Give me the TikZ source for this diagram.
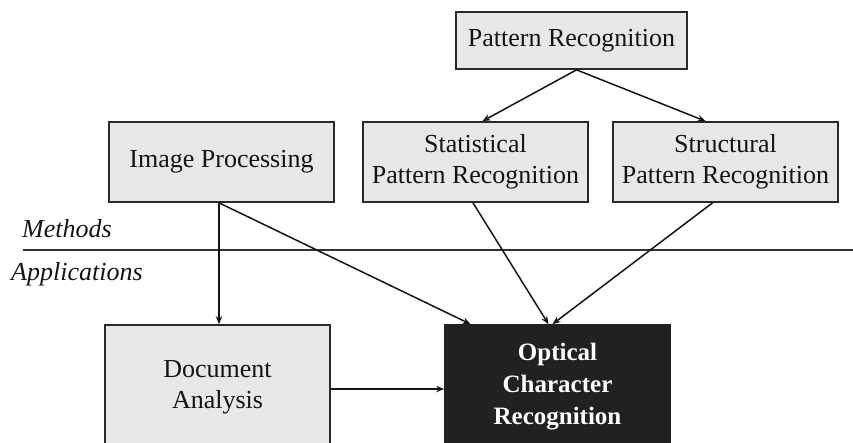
\documentclass[tikz,border=0pt]{standalone}
\usepackage{fontspec}
\setmainfont{Liberation Serif}
\usetikzlibrary{arrows.meta}
\definecolor{boxfill}{HTML}{E8E8E8}
\definecolor{boxline}{HTML}{2A2A2A}
\definecolor{ocrfill}{HTML}{212121}
\begin{document}
\begin{tikzpicture}[x=1pt,y=-1pt,
  box/.style={draw=boxline, line width=1.7pt, fill=boxfill, align=center,
    font=\fontsize{26}{31}\selectfont, inner sep=0pt, text=black!92},
  conn/.style={draw=black!92, line width=1.5pt, -{Stealth[length=8pt,width=6.5pt]}},
  lbl/.style={font=\fontsize{26}{31}\selectfont\itshape, inner sep=0pt, anchor=base west, text=black!92}]
\useasboundingbox (0,0) rectangle (853,443);
\clip (0,0) rectangle (853,443);
\node[box, minimum width=231pt, minimum height=57pt] (pr) at (571.5,40.5) {Pattern Recognition};
\node[box, minimum width=225pt, minimum height=80pt] (ip) at (221.5,162) {Image Processing};
\node[box, minimum width=225pt, minimum height=80pt] (stat) at (475.5,162) {Statistical\\Pattern Recognition};
\node[box, minimum width=225pt, minimum height=80pt] (struct) at (725.5,162) {Structural\\Pattern Recognition};
\node[box, minimum width=225pt, minimum height=124pt] (doc) at (217.5,387) {Document\\Analysis};
\node[box, fill=ocrfill, draw=ocrfill, text=white, minimum width=225pt, minimum height=124pt,
  font=\fontsize{25}{32}\selectfont\bfseries] (ocr) at (557.5,387) {Optical\\Character\\Recognition};
\coordinate (lineL) at (23,250);
\coordinate (lineR) at (853,250);
\draw[draw=black!80, line width=1.6pt] (lineL) -- (lineR);
\node[lbl] (methods) at (22,238) {Methods};
\node[lbl] (apps) at (11,280) {Applications};
\draw[conn] ([xshift=5pt]pr.south) -- ([xshift=7pt]stat.north);
\draw[conn] ([xshift=5pt]pr.south) -- ([xshift=-20pt]struct.north);
\draw[conn] ([xshift=-2.5pt]ip.south) -- ([xshift=-2.5pt]ip.south |- doc.north);
\draw[conn] ([xshift=-2.5pt]ip.south) -- ([xshift=-87pt]ocr.north);
\draw[conn] ([xshift=-2.5pt]stat.south) -- ([xshift=-9pt]ocr.north);
\draw[conn] ([xshift=-13pt]struct.south) -- ([xshift=-5pt]ocr.north);
\draw[conn] ([yshift=-2pt]doc.east) -- ([yshift=-2pt]ocr.west);
\end{tikzpicture}
\end{document}
